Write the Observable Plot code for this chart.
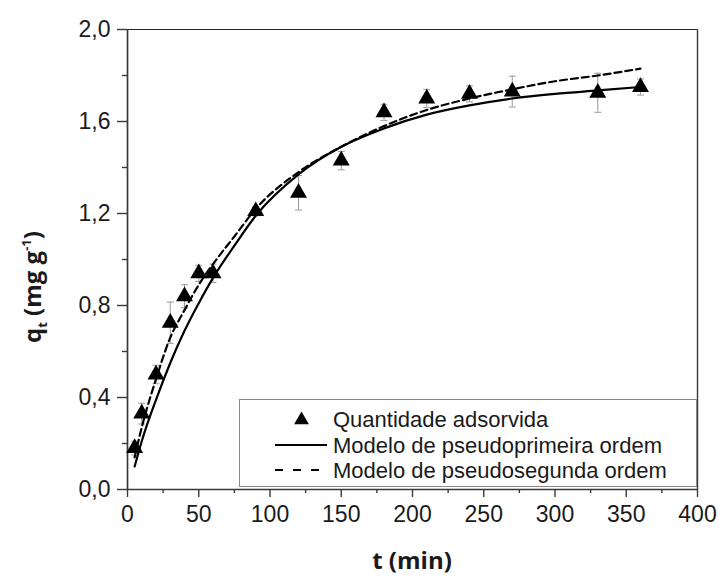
<!DOCTYPE html>
<html>
<head>
<meta charset="utf-8">
<script src="https://cdn.jsdelivr.net/npm/d3@7"></script>
<script src="https://cdn.jsdelivr.net/npm/@observablehq/plot@0.6"></script>
<style>
  html, body { margin: 0; padding: 0; background: #fff; }
</style>
</head>
<body>
<div id="chart"></div>
<script>
// Adsorption kinetics: measured uptake q_t (mean ± SD) and two kinetic models
const times = [5, 10, 20, 30, 40, 50, 60, 90, 120, 150, 180, 210, 240, 270, 330, 360];
const qt    = [0.18, 0.33, 0.50, 0.725, 0.84, 0.94, 0.94, 1.21, 1.29, 1.43, 1.64, 1.70, 1.72, 1.73, 1.725, 1.75];
const qtErr = [0.03, 0.045, 0.04, 0.09, 0.05, 0.035, 0.04, 0.02, 0.075, 0.04, 0.035, 0.04, 0.035, 0.067, 0.085, 0.035];

// Model curves sampled along t
const modelT = [5, 10, 20, 30, 40, 50, 60, 75, 90, 120, 150, 180, 210, 240, 270, 300, 330, 360];
const pfoQ   = [0.10, 0.21, 0.39, 0.55, 0.69, 0.81, 0.92, 1.06, 1.19, 1.37, 1.49, 1.57, 1.63, 1.67, 1.70, 1.72, 1.735, 1.75];
const psoQ   = [0.14, 0.27, 0.48, 0.66, 0.78, 0.89, 0.98, 1.10, 1.22, 1.38, 1.49, 1.58, 1.65, 1.70, 1.74, 1.775, 1.80, 1.83];

const xMajor = [0, 50, 100, 150, 200, 250, 300, 350, 400];
const xMinor = [25, 75, 125, 175, 225, 275, 325, 375];
const yMajor = [0, 0.4, 0.8, 1.2, 1.6, 2.0];
const yMinor = [0.2, 0.6, 1.0, 1.4, 1.8];

const legendLabels = ["Quantidade adsorvida", "Modelo de pseudoprimeira ordem", "Modelo de pseudosegunda ordem"];

const points = times.map((t, i) => ({ t, q: qt[i], lo: qt[i] - qtErr[i], hi: qt[i] + qtErr[i] }));
const pfo = modelT.map((t, i) => ({ t, q: pfoQ[i] }));
const pso = modelT.map((t, i) => ({ t, q: psoQ[i] }));

const decimalComma = d => d.toFixed(1).replace(".", ",");
const capSymbol = { draw(ctx) { ctx.moveTo(-3.5, 0); ctx.lineTo(3.5, 0); } };
const axisColor = "#3a3a3a";
const textColor = "#1a1a1a";
const tickFont = "'Liberation Sans', Arial, sans-serif";

const chart = Plot.plot({
  width: 719,
  height: 577,
  marginLeft: 127,
  marginRight: 22,
  marginTop: 29,
  marginBottom: 88,
  style: { fontFamily: tickFont, color: textColor, background: "#fff" },
  x: { domain: [0, 400] },
  y: { domain: [0, 2] },
  marks: [
    Plot.axisX({ ticks: xMajor, tickSize: 8, tickPadding: 8, fontSize: 23, tickFormat: d => String(d), label: null, stroke: axisColor, strokeWidth: 1.4 }),
    Plot.axisX({ ticks: xMinor, tickSize: 4, tickFormat: () => "", label: null, stroke: axisColor, strokeWidth: 1.4 }),
    Plot.axisY({ ticks: yMajor, tickSize: 10, tickPadding: 7, fontSize: 23, tickFormat: decimalComma, label: null, stroke: axisColor, strokeWidth: 1.4 }),
    Plot.axisY({ ticks: yMinor, tickSize: 5, tickFormat: () => "", label: null, stroke: axisColor, strokeWidth: 1.4 }),
    // frame
    Plot.ruleY([2], { stroke: "#222", strokeWidth: 1.1 }),
    Plot.ruleX([400], { stroke: axisColor, strokeWidth: 1.4 }),
    Plot.ruleX([0], { stroke: axisColor, strokeWidth: 1.7 }),
    Plot.ruleY([0], { stroke: axisColor, strokeWidth: 1.7 }),
    // error bars
    Plot.ruleX(points, { x: "t", y1: "lo", y2: "hi", stroke: "#9a9a9a", strokeWidth: 1 }),
    Plot.dot(points, { x: "t", y: "hi", symbol: capSymbol, stroke: "#9a9a9a", strokeWidth: 1, fill: "none" }),
    Plot.dot(points, { x: "t", y: "lo", symbol: capSymbol, stroke: "#9a9a9a", strokeWidth: 1, fill: "none" }),
    // models
    Plot.line(pfo, { x: "t", y: "q", stroke: "#000", strokeWidth: 2.2, curve: "monotone-x" }),
    Plot.line(pso, { x: "t", y: "q", stroke: "#000", strokeWidth: 2.2, strokeDasharray: "7,4", curve: "monotone-x" }),
    // measurements
    Plot.dot(points, { x: "t", y: "q", symbol: "triangle", r: 6.3, fill: "#000", stroke: "none" })
  ]
});

document.getElementById("chart").appendChild(chart);

const svg = d3.select(chart);
const titleFont = "'Open Sans', 'DejaVu Sans', sans-serif";

// axis titles
svg.append("text")
  .attr("x", 412).attr("y", 569)
  .attr("text-anchor", "middle")
  .attr("font-family", titleFont).attr("font-weight", "bold").attr("font-size", 24)
  .attr("fill", textColor)
  .text("t (min)");

const yTitle = svg.append("text")
  .attr("transform", "translate(41,287) rotate(-90)")
  .attr("text-anchor", "middle")
  .attr("font-family", titleFont).attr("font-weight", "bold").attr("font-size", 24)
  .attr("fill", textColor);
yTitle.append("tspan").text("q");
yTitle.append("tspan").attr("font-size", 13).attr("dy", 6).text("t");
yTitle.append("tspan").attr("dy", -6).text(" (mg g");
yTitle.append("tspan").attr("font-size", 13).attr("dy", -10).text("-1");
yTitle.append("tspan").attr("dy", 10).text(")");

// legend
const lg = svg.append("g");
lg.append("rect")
  .attr("x", 239.5).attr("y", 399.5).attr("width", 457).attr("height", 87)
  .attr("fill", "#fff").attr("stroke", "#8a8a8a").attr("stroke-width", 1);
lg.append("path")
  .attr("transform", "translate(301.5,420)")
  .attr("d", d3.symbol(d3.symbolTriangle, 95)())
  .attr("fill", "#000");
lg.append("line").attr("x1", 275).attr("x2", 327).attr("y1", 445).attr("y2", 445)
  .attr("stroke", "#000").attr("stroke-width", 2.2);
lg.append("line").attr("x1", 275).attr("x2", 327).attr("y1", 470).attr("y2", 470)
  .attr("stroke", "#000").attr("stroke-width", 2.2).attr("stroke-dasharray", "8,10");
const baselines = [427, 453, 478];
legendLabels.forEach((label, i) => {
  lg.append("text")
    .attr("x", 333).attr("y", baselines[i])
    .attr("text-anchor", "start")
    .attr("font-family", tickFont).attr("font-size", 22)
    .attr("fill", textColor)
    .text(label);
});
</script>
</body>
</html>
